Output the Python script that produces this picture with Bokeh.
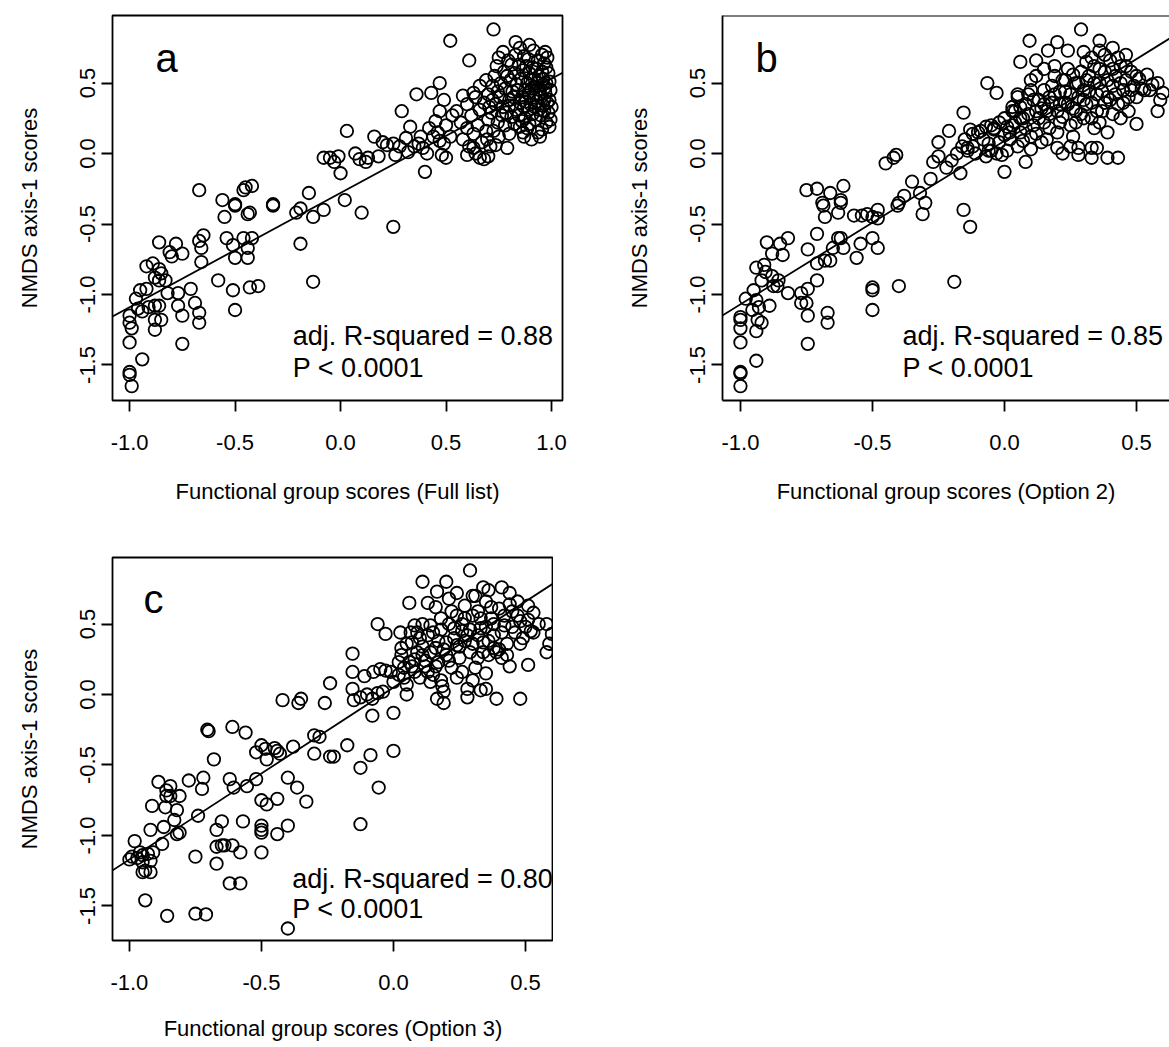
from bokeh.plotting import figure
from bokeh.layouts import column, row
from bokeh.models import Label, Slope, Span, FixedTicker, Range1d
from bokeh.embed import file_html
from bokeh.resources import INLINE

FONT = "Liberation Sans"

# ---------------- data ----------------
A_POINTS = [
    (-1.00,-1.15),(-1.00,-1.20),(-0.99,-1.24),(-1.00,-1.34),(-1.00,-1.55),(-1.00,-1.57),(-0.99,-1.65),(-0.94,-1.46),
    (-0.97,-1.03),(-0.95,-0.97),(-0.92,-0.96),(-0.92,-0.80),(-0.89,-0.78),(-0.86,-0.82),(-0.85,-0.85),(-0.88,-0.88),
    (-0.86,-0.90),(-0.83,-0.90),(-0.86,-0.63),(-0.81,-0.70),(-0.78,-0.64),(-0.75,-0.71),(-0.80,-0.73),
    (-0.88,-1.08),(-0.86,-1.08),(-0.88,-1.18),(-0.88,-1.25),(-0.85,-1.18),
    (-0.82,-0.99),(-0.77,-0.99),(-0.77,-1.08),(-0.75,-1.15),(-0.71,-0.96),(-0.69,-1.06),(-0.67,-1.13),(-0.67,-1.20),(-0.75,-1.35),
    (-0.94,-1.12),(-0.91,-1.09),(-0.96,-1.10),
    (-0.67,-0.62),(-0.65,-0.58),(-0.66,-0.67),(-0.66,-0.77),(-0.58,-0.90),
    (-0.55,-0.45),(-0.50,-0.37),(-0.54,-0.60),(-0.51,-0.65),(-0.50,-0.74),(-0.51,-0.97),(-0.50,-1.11),
    (-0.46,-0.60),(-0.44,-0.43),(-0.43,-0.42),(-0.42,-0.60),(-0.44,-0.67),(-0.44,-0.74),(-0.43,-0.95),(-0.39,-0.94),
    (-0.32,-0.37),(-0.21,-0.42),(-0.19,-0.39),(-0.13,-0.45),(-0.08,-0.40),(-0.19,-0.64),(-0.13,-0.91),
    (-0.67,-0.26),(-0.56,-0.33),(-0.50,-0.36),(-0.46,-0.26),(-0.42,-0.23),(-0.45,-0.24),(-0.32,-0.36),(-0.15,-0.28),
    (-0.08,-0.03),(-0.05,-0.03),(-0.01,-0.02),(-0.03,-0.06),(0.00,-0.14),(0.02,-0.33),(0.10,-0.42),(0.25,-0.52),
    (0.03,0.16),(0.16,0.12),(0.22,0.06),(0.25,0.07),(0.31,0.11),(0.32,0.01),(0.37,0.07),(0.39,0.04),(0.41,0.00),
    (0.46,0.15),(0.47,0.09),(0.49,0.07),(0.48,-0.01),(0.50,-0.03),(0.40,-0.13),
    (0.07,0.00),(0.09,-0.04),(0.12,-0.06),(0.13,-0.03),(0.18,-0.02),(0.20,0.08),(0.26,-0.01),(0.28,0.05),
    (0.35,0.05),(0.38,0.12),(0.42,0.18),(0.44,0.12),(0.45,0.23),(0.47,0.30),(0.50,0.20),(0.52,0.12),(0.53,0.27),
    (0.725,0.88),(0.52,0.80),(0.61,0.66),(0.97,0.72),(0.83,0.79),(0.36,0.42),(0.43,0.43),(0.47,0.50),(0.49,0.38),
    (0.29,0.30),(0.33,0.19),
    (0.55,0.30),(0.57,0.22),(0.58,0.10),(0.60,0.35),(0.60,0.18),(0.61,0.05),(0.62,0.27),(0.63,0.14),(0.64,0.40),
    (0.64,0.00),(0.65,0.20),(0.66,0.31),(0.67,0.08),(0.68,0.36),(0.68,-0.04),(0.69,0.16),(0.70,-0.02),(0.71,0.05),
    (0.72,0.48),(0.73,0.55),(0.74,0.62),(0.75,0.68),(0.77,0.72),(0.79,0.04),(0.66,0.48),(0.69,0.52),(0.60,-0.01),
    (0.63,0.04),(0.66,-0.03),(0.58,0.41),(0.63,0.43),
    (0.995,0.45),(0.99,0.38),(1.00,0.33),(0.985,0.29),(0.995,0.24),(0.99,0.51),(0.985,0.57),(0.975,0.61),(0.99,0.19),
    (0.975,0.50),(0.97,0.43),(0.98,0.36),(0.965,0.30),(0.975,0.22),(0.965,0.64),(0.97,0.47),
    (0.955,0.70),(0.955,0.58),(0.96,0.49),(0.95,0.40),(0.96,0.34),(0.95,0.27),(0.955,0.17),(0.945,0.45),(0.965,0.38),
    (0.935,0.66),(0.94,0.55),(0.93,0.50),(0.945,0.42),(0.93,0.37),(0.94,0.31),(0.925,0.24),(0.935,0.15),(0.92,0.33),
    (0.915,0.73),(0.91,0.61),(0.92,0.53),(0.905,0.46),(0.915,0.40),(0.90,0.35),(0.91,0.28),(0.895,0.21),(0.92,0.47),
    (0.895,0.77),(0.89,0.67),(0.895,0.57),(0.885,0.50),(0.89,0.43),(0.88,0.37),(0.895,0.31),(0.875,0.25),(0.885,0.18),
    (0.87,0.69),(0.865,0.59),(0.875,0.45),(0.86,0.40),(0.87,0.33),(0.86,0.23),(0.865,0.15),
    (0.85,0.75),(0.845,0.63),(0.855,0.53),(0.84,0.45),(0.85,0.36),(0.845,0.27),(0.85,0.19),
    (0.83,0.70),(0.825,0.57),(0.835,0.49),(0.82,0.40),(0.83,0.31),(0.825,0.21),
    (0.81,0.63),(0.805,0.52),(0.815,0.44),(0.80,0.34),(0.81,0.26),
    (0.795,0.66),(0.79,0.55),(0.80,0.38),(0.785,0.29),(0.80,0.14),
    (0.775,0.58),(0.78,0.46),(0.77,0.33),(0.78,0.20),
    (0.76,0.50),(0.755,0.40),(0.765,0.27),(0.75,0.12),
    (0.745,0.44),(0.735,0.35),(0.745,0.22),(0.735,0.06),
    (0.72,0.38),(0.715,0.29),(0.725,0.16),(0.705,0.33),(0.70,0.24),(0.695,0.10),(0.70,0.42),
    (0.945,0.12),(0.905,0.10),(0.87,0.12),(0.98,0.68),(0.93,0.60),(0.96,0.53),(0.90,0.52),(0.88,0.62),
]

B_POINTS = [
    (-1.00,-1.16),(-1.00,-1.18),(-1.00,-1.24),(-1.00,-1.34),(-1.00,-1.55),(-1.00,-1.56),(-1.00,-1.65),(-0.94,-1.47),
    (-0.98,-1.03),(-0.95,-0.97),(-0.94,-1.04),(-0.955,-1.11),(-0.93,-1.09),(-0.935,-1.18),(-0.94,-1.26),(-0.92,-1.20),
    (-0.89,-1.08),(-0.94,-0.81),(-0.91,-0.79),(-0.905,-0.84),(-0.92,-0.90),(-0.88,-0.87),(-0.875,-0.94),(-0.856,-0.90),
    (-0.86,-0.94),(-0.90,-0.63),(-0.85,-0.64),(-0.82,-0.60),(-0.88,-0.71),(-0.84,-0.72),
    (-0.82,-0.99),(-0.77,-0.99),(-0.77,-1.06),(-0.75,-1.06),(-0.745,-1.15),(-0.745,-0.96),(-0.71,-0.90),(-0.745,-1.35),
    (-0.745,-0.68),(-0.71,-0.57),(-0.68,-0.76),(-0.66,-0.76),(-0.71,-0.78),(-0.67,-1.13),(-0.67,-1.20),
    (-0.65,-0.67),(-0.63,-0.60),(-0.62,-0.60),(-0.61,-0.67),
    (-0.686,-0.37),(-0.68,-0.45),(-0.63,-0.42),(-0.62,-0.35),
    (-0.57,-0.44),(-0.54,-0.44),(-0.52,-0.43),(-0.50,-0.45),(-0.48,-0.40),(-0.48,-0.46),
    (-0.545,-0.64),(-0.56,-0.74),(-0.50,-0.60),(-0.48,-0.67),(-0.50,-0.95),(-0.50,-0.97),(-0.50,-1.11),(-0.40,-0.94),
    (-0.405,-0.37),(-0.31,-0.43),(-0.30,-0.35),(-0.155,-0.40),(-0.13,-0.52),(-0.19,-0.91),
    (-0.75,-0.26),(-0.71,-0.25),(-0.66,-0.28),(-0.61,-0.23),(-0.69,-0.35),(-0.62,-0.33),
    (-0.45,-0.07),(-0.42,-0.03),(-0.41,-0.01),(-0.27,-0.06),(-0.25,0.08),(-0.40,-0.35),(-0.32,-0.28),
    (-0.21,0.16),(-0.167,-0.14),(-0.155,0.29),(-0.065,0.50),(-0.03,0.43),
    (-0.14,0.04),(-0.12,0.14),(-0.09,0.16),(-0.07,0.19),(-0.04,0.18),(-0.06,0.07),(-0.05,0.02),(-0.01,-0.01),
    (0.01,0.19),(0.03,0.30),(0.05,0.42),(0.06,0.25),(0.10,0.52),(0.07,0.09),(0.00,-0.13),(0.08,-0.06),
    (-0.15,0.10),(-0.12,0.05),(-0.10,0.15),(-0.08,0.10),(-0.06,0.02),(-0.04,0.17),(-0.02,0.08),(0.00,0.13),
    (0.01,0.02),(-0.14,0.02),(-0.11,0.00),(-0.07,-0.02),(-0.03,0.00),(-0.13,0.17),(-0.05,0.20),(-0.02,0.22),
    (0.02,0.10),(0.03,0.20),(0.04,0.30),(0.05,0.05),(0.06,0.15),(0.07,0.25),(0.08,0.35),(0.09,0.42),(0.10,0.12),
    (0.11,0.20),(0.12,0.30),(0.13,0.38),(0.14,0.08),(0.05,0.40),(0.03,0.33),(0.10,0.03),
    (0.15,0.22),(0.16,0.30),(0.17,0.40),(0.18,0.48),(0.19,0.55),(0.20,0.15),(0.21,0.35),(0.22,0.26),(0.23,0.44),
    (0.24,0.60),(0.25,0.20),(0.26,0.32),(0.27,0.50),(0.28,0.40),(0.29,0.28),(0.16,0.10),(0.19,0.62),(0.22,0.52),
    (0.26,0.12),(0.15,0.45),(0.18,0.36),(0.21,0.44),(0.24,0.35),(0.27,0.22),(0.29,0.58),
    (0.30,0.45),(0.31,0.35),(0.32,0.55),(0.33,0.25),(0.34,0.62),(0.35,0.42),(0.36,0.50),(0.37,0.30),(0.38,0.58),
    (0.39,0.40),(0.40,0.66),(0.41,0.48),(0.42,0.55),(0.43,0.35),(0.44,0.62),(0.45,0.45),(0.46,0.52),(0.47,0.40),
    (0.48,0.58),(0.31,0.65),(0.34,0.18),(0.36,0.22),(0.39,0.15),(0.41,0.28),(0.44,0.25),(0.47,0.30),(0.49,0.48),
    (0.33,0.68),(0.38,0.70),(0.43,0.68),(0.20,0.04),(0.22,0.00),(0.25,0.05),
    (0.29,0.88),(0.095,0.80),(0.20,0.79),(0.165,0.73),(0.06,0.65),(0.12,0.66),(0.24,0.73),(0.30,0.72),(0.41,0.75),
    (0.36,0.73),(0.28,0.04),(0.28,-0.01),(0.33,0.04),(0.35,0.04),(0.39,-0.03),(0.43,-0.03),(0.33,-0.03),
    (0.50,0.21),(0.58,0.50),(0.60,0.43),(0.59,0.38),(0.58,0.30),(0.51,0.53),(0.52,0.46),(0.53,0.45),
    (-0.38,-0.30),(-0.35,-0.20),(-0.28,-0.18),(-0.22,-0.10),(-0.20,-0.05),(-0.18,0.00),(-0.16,0.05),(-0.25,-0.02),
    (0.00,0.25),(0.02,0.15),(0.04,0.22),(0.06,0.33),(0.08,0.18),(0.09,0.28),(0.11,0.38),(0.12,0.14),(0.13,0.25),
    (0.14,0.32),(0.15,0.35),(0.17,0.18),(0.17,0.28),(0.19,0.42),(0.20,0.30),(0.21,0.22),(0.23,0.36),(0.23,0.52),
    (0.25,0.42),(0.26,0.56),(0.27,0.30),(0.28,0.50),(0.30,0.38),(0.30,0.25),(0.31,0.52),(0.32,0.44),(0.33,0.36),
    (0.34,0.50),(0.35,0.30),(0.36,0.60),(0.37,0.44),(0.38,0.36),(0.39,0.52),(0.40,0.38),(0.41,0.60),(0.42,0.42),
    (0.44,0.50),(0.45,0.36),(0.46,0.62),(0.48,0.45),(0.50,0.55),(0.50,0.40),(0.55,0.45),(0.54,0.56),(0.56,0.49),
    (0.46,0.70),(0.36,0.80),(0.15,0.60),(0.10,0.45),(0.12,0.55),
]

C_POINTS = [
    (-1.00,-1.17),(-0.99,-1.15),(-0.98,-1.04),(-0.97,-1.16),(-0.96,-1.12),(-0.95,-1.14),(-0.95,-1.19),(-0.94,-1.25),
    (-0.92,-1.26),(-0.95,-1.26),(-0.93,-1.13),(-0.92,-1.18),(-0.91,-1.12),(-0.94,-1.46),(-0.857,-1.57),
    (-0.75,-1.555),(-0.71,-1.56),(-0.40,-1.66),(-0.876,-1.06),
    (-0.92,-0.96),(-0.87,-0.94),(-0.82,-0.99),(-0.81,-0.98),(-0.914,-0.79),(-0.864,-0.80),(-0.82,-0.82),(-0.83,-0.89),
    (-0.86,-0.72),(-0.845,-0.72),(-0.81,-0.72),(-0.86,-0.68),(-0.89,-0.62),(-0.845,-0.65),
    (-0.775,-0.61),(-0.72,-0.59),(-0.725,-0.67),(-0.68,-0.46),(-0.74,-0.86),(-0.75,-1.15),
    (-0.67,-1.08),(-0.65,-1.07),(-0.64,-1.07),(-0.61,-1.07),(-0.58,-1.12),(-0.67,-1.20),(-0.62,-1.34),(-0.58,-1.34),
    (-0.67,-0.96),(-0.65,-0.90),(-0.62,-0.60),(-0.605,-0.66),(-0.555,-0.65),(-0.52,-0.60),(-0.57,-0.90),
    (-0.50,-0.93),(-0.50,-0.96),(-0.50,-0.98),(-0.44,-0.99),(-0.40,-0.93),(-0.50,-1.12),
    (-0.50,-0.75),(-0.48,-0.78),(-0.44,-0.74),(-0.40,-0.59),(-0.365,-0.66),(-0.33,-0.76),
    (-0.485,-0.385),(-0.44,-0.40),(-0.48,-0.46),(-0.43,-0.42),(-0.38,-0.37),(-0.30,-0.42),(-0.24,-0.44),
    (-0.705,-0.25),(-0.70,-0.26),(-0.61,-0.23),(-0.56,-0.27),(-0.50,-0.36),(-0.52,-0.41),(-0.45,-0.38),
    (-0.30,-0.29),(-0.28,-0.30),(-0.42,-0.04),(-0.36,-0.06),(-0.35,-0.03),(-0.26,-0.06),(-0.24,0.08),
    (-0.226,-0.44),(-0.125,-0.52),(-0.087,-0.43),(0.00,-0.40),(-0.175,-0.36),(-0.056,-0.66),(-0.125,-0.92),
    (0.29,0.88),(0.11,0.80),(0.20,0.80),(0.165,0.73),(0.06,0.65),(0.13,0.65),(0.24,0.72),(0.30,0.70),(0.36,0.74),
    (0.41,0.76),(-0.06,0.50),(-0.03,0.43),(-0.155,0.29),
    (-0.155,0.16),(-0.155,0.04),(-0.11,0.13),(-0.076,0.16),(-0.05,0.18),(-0.03,0.17),(-0.01,0.16),
    (-0.15,-0.04),(-0.125,-0.02),(-0.10,0.00),(-0.08,-0.03),(-0.06,0.01),(-0.04,0.02),(-0.08,-0.15),(0.00,-0.13),
    (0.05,0.00),(0.185,0.06),(0.19,0.02),(0.19,-0.06),(0.165,-0.03),
    (0.28,0.04),(0.28,-0.02),(0.33,0.03),(0.35,0.04),(0.39,-0.03),(0.48,-0.03),
    (0.51,0.21),(0.58,0.50),(0.60,0.43),(0.59,0.36),(0.58,0.30),(0.51,0.53),(0.52,0.45),(0.53,0.44),
    (0.026,0.44),(0.03,0.33),(0.04,0.19),(0.04,0.12),(0.065,0.44),(0.07,0.37),(0.08,0.25),(0.08,0.16),(0.09,0.30),
    (0.10,0.12),(0.06,0.23),(0.05,0.07),(0.10,0.40),(0.11,0.28),(0.13,0.16),(0.14,0.09),(0.15,0.44),(0.16,0.33),
    (0.17,0.23),(0.18,0.54),(0.20,0.37),(0.20,0.28),(0.22,0.19),(0.22,0.59),(0.23,0.47),(0.24,0.35),(0.25,0.26),
    (0.27,0.63),(0.27,0.54),(0.28,0.42),(0.29,0.30),(0.31,0.19),(0.32,0.59),(0.33,0.47),(0.34,0.37),(0.35,0.66),
    (0.36,0.28),(0.37,0.54),(0.38,0.42),(0.40,0.61),(0.40,0.32),(0.42,0.49),(0.43,0.28),(0.45,0.59),(0.46,0.44),
    (0.47,0.66),(0.48,0.52),(0.49,0.40),(0.51,0.63),(0.41,0.26),(0.32,0.26),(0.24,0.12),(0.14,0.49),(0.08,0.49),
    (0.21,0.68),(0.31,0.70),(0.02,0.14),(0.00,0.09),(0.02,0.23),
    (0.12,0.20),(0.15,0.14),(0.18,0.10),(0.26,0.16),(0.30,0.10),(0.35,0.15),(0.44,0.20),(0.38,0.33),(0.26,0.45),
    (0.03,0.28),(0.05,0.36),(0.07,0.20),(0.09,0.44),(0.11,0.34),(0.12,0.24),(0.13,0.42),(0.14,0.30),(0.16,0.20),
    (0.17,0.38),(0.18,0.46),(0.19,0.32),(0.21,0.24),(0.21,0.50),(0.23,0.40),(0.24,0.56),(0.25,0.34),(0.26,0.50),
    (0.27,0.38),(0.29,0.46),(0.30,0.56),(0.30,0.36),(0.32,0.42),(0.33,0.54),(0.34,0.30),(0.35,0.48),(0.36,0.38),
    (0.37,0.62),(0.38,0.50),(0.39,0.30),(0.41,0.44),(0.42,0.56),(0.43,0.36),(0.44,0.64),(0.45,0.48),(0.47,0.56),
    (0.48,0.36),(0.50,0.48),(0.53,0.58),(0.55,0.50),(0.34,0.76),(0.44,0.72),(0.16,0.62),(0.11,0.50),
]

A_FIT = (-0.28, 0.81)   # intercept, slope
B_FIT = (0.09, 1.16)
C_FIT = (0.05, 1.22)

X_TICKS_A = [-1.0, -0.5, 0.0, 0.5, 1.0]
X_LABELS_A = ["-1.0", "-0.5", "0.0", "0.5", "1.0"]
X_TICKS_BC = [-1.0, -0.5, 0.0, 0.5]
X_LABELS_BC = ["-1.0", "-0.5", "0.0", "0.5"]
Y_TICKS = [-1.5, -1.0, -0.5, 0.0, 0.5]
Y_LABELS = ["-1.5", "-1.0", "-0.5", "0.0", "0.5"]

STATS = {"a": ("adj. R-squared = 0.88", "P < 0.0001"),
         "b": ("adj. R-squared = 0.85", "P < 0.0001"),
         "c": ("adj. R-squared = 0.80", "P < 0.0001")}
X_TITLES = {"a": "Functional group scores (Full list)",
            "b": "Functional group scores (Option 2)",
            "c": "Functional group scores (Option 3)"}
Y_TITLE = "NMDS axis-1 scores"

LW = 1.8


def panel(points, fit, xr, yr, xticks, xlabels, key, letter_pos, stats_pos,
          fw, fh, bl, bt, br, bb, title_standoff, boxed=True):
    p = figure(frame_width=fw, frame_height=fh, x_range=Range1d(*xr), y_range=Range1d(*yr),
               output_backend="svg", toolbar_location=None,
               min_border_left=bl, min_border_top=bt, min_border_right=br, min_border_bottom=bb)
    p.grid.visible = False
    p.background_fill_color = "white"
    p.border_fill_color = "white"
    if boxed:
        p.outline_line_color = "black"
        p.outline_line_width = LW
        axis_line = None
    else:
        p.outline_line_color = None
        axis_line = "black"
        p.add_layout(Span(location=yr[1], dimension="width", line_color="black", line_width=LW))

    xs = [pt[0] for pt in points]
    ys = [pt[1] for pt in points]
    p.scatter(xs, ys, marker="circle", size=12.5, fill_color=None, line_color="black", line_width=LW)
    p.add_layout(Slope(y_intercept=fit[0], gradient=fit[1], line_color="black", line_width=LW))

    for ax in (p.xaxis[0], p.yaxis[0]):
        ax.axis_line_color = axis_line
        ax.axis_line_width = LW
        ax.major_tick_line_color = "black"
        ax.major_tick_line_width = LW
        ax.major_tick_out = 11
        ax.major_tick_in = 0
        ax.minor_tick_line_color = None
        ax.major_label_text_font = FONT
        ax.major_label_text_font_size = "22px"
        ax.major_label_text_color = "black"
        ax.axis_label_text_font = FONT
        ax.axis_label_text_font_size = "22px"
        ax.axis_label_text_font_style = "normal"
        ax.axis_label_text_color = "black"

    p.xaxis.ticker = FixedTicker(ticks=xticks)
    p.xaxis.major_label_overrides = {t: l for t, l in zip(xticks, xlabels)}
    p.xaxis.major_label_standoff = 23
    p.xaxis.axis_label = X_TITLES[key]
    p.xaxis.axis_label_standoff = title_standoff

    p.yaxis.ticker = FixedTicker(ticks=Y_TICKS)
    p.yaxis.major_label_overrides = {t: l for t, l in zip(Y_TICKS, Y_LABELS)}
    p.yaxis.major_label_orientation = "vertical"
    p.yaxis.major_label_standoff = 6
    p.yaxis.axis_label = Y_TITLE
    p.yaxis.axis_label_standoff = 36

    p.add_layout(Label(x=letter_pos[0], y=letter_pos[1], text=key, text_font=FONT,
                       text_font_size="40px", text_color="black", text_baseline="alphabetic"))
    s1, s2 = STATS[key]
    p.add_layout(Label(x=stats_pos[0], y=stats_pos[1], text=s1, text_font=FONT,
                       text_font_size="27px", text_color="black", text_baseline="alphabetic"))
    p.add_layout(Label(x=stats_pos[0], y=stats_pos[2], text=s2, text_font=FONT,
                       text_font_size="27px", text_color="black", text_baseline="alphabetic"))
    return p


pa = panel(A_POINTS, A_FIT, (-1.081, 1.052), (-1.752, 0.979), X_TICKS_A, X_LABELS_A, "a",
           (-0.877, 0.674), (-0.227, -1.298, -1.525), 450, 385, 112, 15, 48, 107, 26)
pb = panel(B_POINTS, B_FIT, (-1.068, 0.625), (-1.752, 0.979), X_TICKS_BC, X_LABELS_BC, "b",
           (-0.943, 0.674), (-0.386, -1.298, -1.525), 447, 385, 112, 15, 0, 107, 26, boxed=False)
pc = panel(C_POINTS, C_FIT, (-1.064, 0.606), (-1.745, 0.972), X_TICKS_BC, X_LABELS_BC, "c",
           (-0.947, 0.68), (-0.383, -1.31, -1.525), 441, 383, 112, 50, 0, 100, 23)

layout = column(row(pa, pb), pc)
open("out.html", "w").write(file_html(layout, INLINE))
